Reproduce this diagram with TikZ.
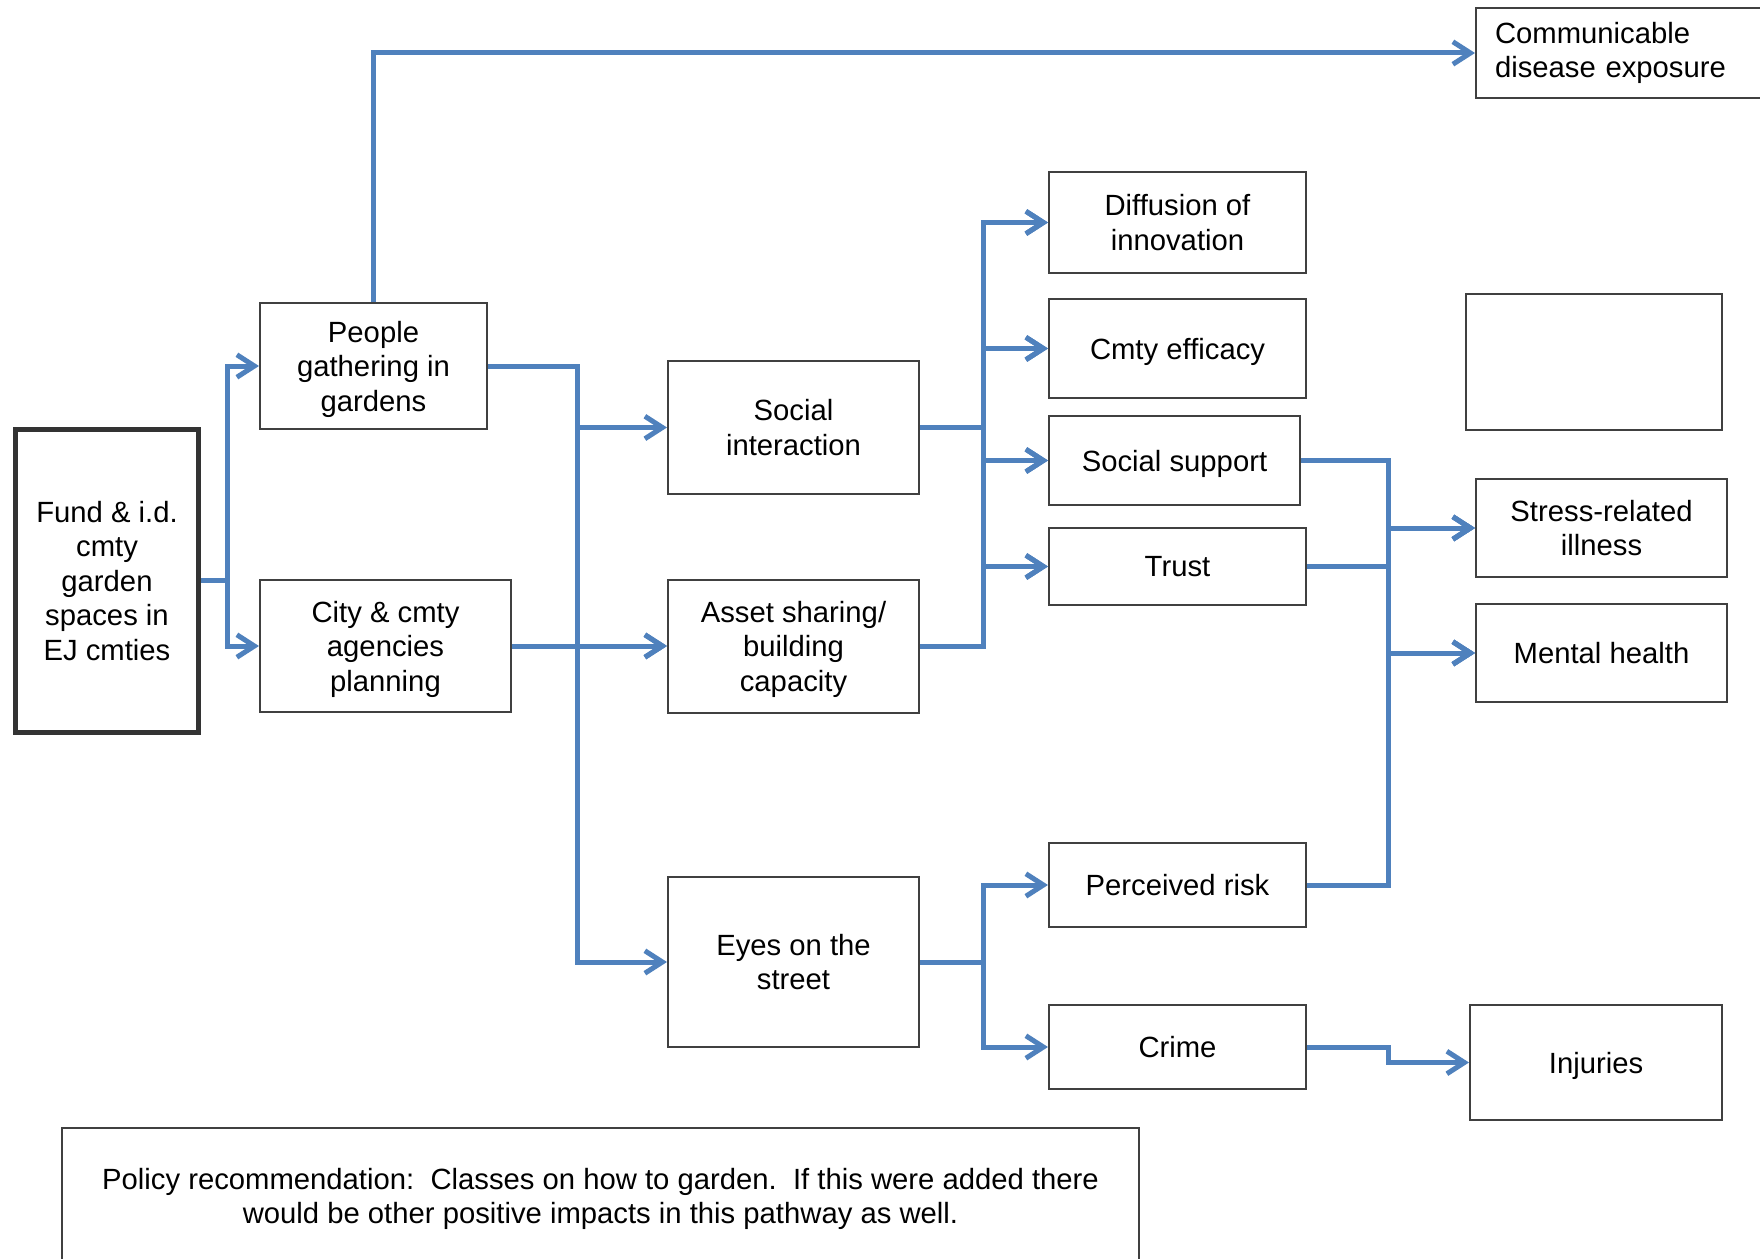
\documentclass[tikz,border=0pt]{standalone}
\usepackage{fontspec}
\setmainfont{Liberation Sans}
\usetikzlibrary{arrows.meta}
\definecolor{linkblue}{RGB}{79,129,189}

\begin{document}
\begin{tikzpicture}[
        x=0.4pt, y=-0.4pt,
        box/.style={draw=black!75, line width=0.8pt, align=center, anchor=west, inner sep=2pt, text depth=0pt, font=\fontsize{11.7}{13.8}\selectfont},
        link/.style={draw=linkblue, line width=2pt, -{Straight Barb[length=7pt, width=9pt]}}
      ]
      \useasboundingbox (0,0) rectangle (1760,1259);

      \node (Fund) [box, line width=2pt, draw=black!80, minimum width=73.2pt, minimum height=121.2pt] at (13,580.5) {Fund \& i.d.\\cmty\\garden\\spaces in\\EJ cmties};

      \node (People) [box, minimum width=90.8pt, minimum height=50.4pt] at (259,366) {People\\gathering in\\gardens};
      \node (City) [box, minimum width=100.4pt, minimum height=52.8pt] at (259,646) {City \& cmty\\agencies\\planning};

      \node (Social) [box, minimum width=100.4pt, minimum height=53.2pt] at (667,427.5) {Social\\interaction};
      \node (Asset) [box, minimum width=100.4pt, minimum height=53.2pt] at (667,646) {Asset sharing/\\building\\capacity};
      \node (Eyes) [box, minimum width=100.4pt, minimum height=68pt] at (667,962) {Eyes on the\\street};

      \node (Diffusion) [box, minimum width=102.8pt, minimum height=40.4pt] at (1048,222.5) {Diffusion of\\innovation};
      \node (Efficacy) [box, minimum width=102.8pt, minimum height=39.6pt] at (1048,348.5) {Cmty efficacy};
      \node (Support) [box, minimum width=100.4pt, minimum height=35.6pt] at (1048,460.5) {Social support};
      \node (Trust) [box, minimum width=102.8pt, minimum height=30.8pt] at (1048,566.5) {Trust};
      \node (Risk) [box, minimum width=102.8pt, minimum height=33.6pt] at (1048,885) {Perceived risk};
      \node (Crime) [box, minimum width=102.8pt, minimum height=33.6pt] at (1048,1047) {Crime};

      \node (Disease) [box, align=left, text width=110pt, text depth=, inner xsep=7.6pt, minimum height=36pt] at (1475,53) {Communicable\\disease exposure};
      \node (Blank) [box, minimum width=102.4pt, minimum height=54.4pt] at (1465,362) {};
      \node (Stress) [box, minimum width=100.4pt, minimum height=39.2pt] at (1475,528) {Stress-related\\illness};
      \node (Mental) [box, minimum width=100.4pt, minimum height=39.2pt] at (1475,653) {Mental health};
      \node (Injuries) [box, minimum width=100.8pt, minimum height=46pt] at (1469,1062.5) {Injuries};

      \node (Policy) [box, anchor=center, minimum width=430.8pt, minimum height=54.4pt] at (600.5,1196) {Policy recommendation:\ \ Classes on how to garden.\ \ If this were added there\\would be other positive impacts in this pathway as well.};

      % forks of the pathways
      \coordinate (fork1) at (227,0);
      \coordinate (fork2) at (577,0);
      \coordinate (fork3) at (983,0);
      \coordinate (fork4) at (1388,0);

      \draw[link] (Fund.east) -- (Fund.east -| fork1) |- (People.west);
      \draw[link] (Fund.east) -- (Fund.east -| fork1) |- (City.west);

      \draw[link] (People.north) |- (Disease.west);
      \draw[link] (People.east) -- (People.east -| fork2) |- (Social.west);
      \draw[link] (People.east) -- (People.east -| fork2) |- (Asset.west);
      \draw[link] (People.east) -- (People.east -| fork2) |- (Eyes.west);
      \draw[link] (City.east) -- (Asset.west);

      \foreach \to in {Diffusion, Efficacy, Support, Trust} {
        \draw[link] (Social.east) -- (Social.east -| fork3) |- (\to.west);
        \draw[link] (Asset.east) -- (Asset.east -| fork3) |- (\to.west);
      }
      \draw[link] (Eyes.east) -- (Eyes.east -| fork3) |- (Risk.west);
      \draw[link] (Eyes.east) -- (Eyes.east -| fork3) |- (Crime.west);

      \foreach \from in {Support, Trust, Risk} {
        \draw[link] (\from.east) -- (\from.east -| fork4) |- (Stress.west);
        \draw[link] (\from.east) -- (\from.east -| fork4) |- (Mental.west);
      }
      \draw[link] (Crime.east) -- (Crime.east -| fork4) |- (Injuries.west);

    \end{tikzpicture}
\end{document}
